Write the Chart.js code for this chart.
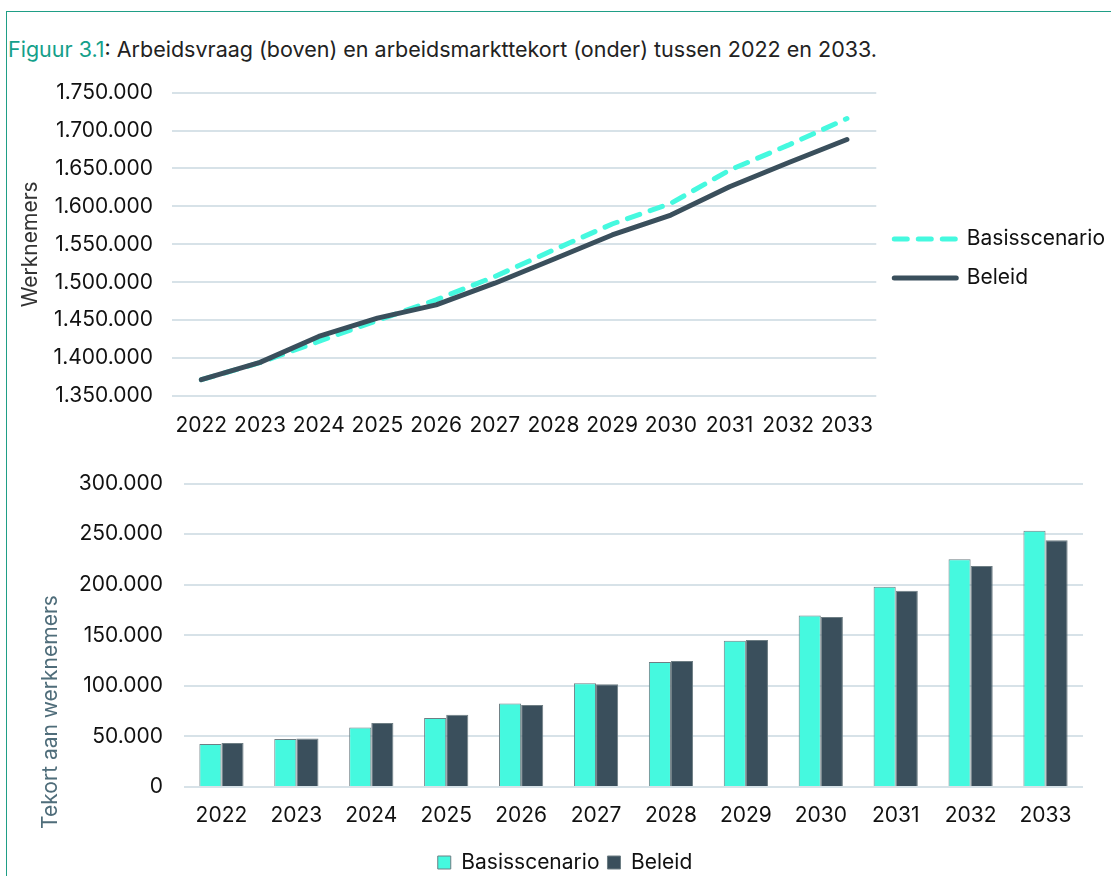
<!DOCTYPE html>
<html>
<head>
<meta charset="utf-8">
<script src="https://cdn.jsdelivr.net/npm/chart.js@4.4.1/dist/chart.umd.min.js"></script>
<style>
  html, body { margin: 0; background: #fff; font-family: Inter, sans-serif; overflow: hidden; width: 1111px; height: 876px; }
  #frame { position: absolute; left: 6px; top: 11px; width: 1105px; height: 866px;
           border-top: 1.5px solid #1f9e86; border-left: 1.5px solid #1f9e86; }
  #title { position: absolute; left: 8px; top: 36px; font-size: 21.5px; color: #222; white-space: nowrap; }
  #title span { color: #14a08a; }
  #boven { position: absolute; left: 0; top: 61px; }
  #onder { position: absolute; left: 0; top: 450px; }
</style>
</head>
<body>
<div id="frame"></div>
<div id="title"><span>Figuur 3.1</span>: Arbeidsvraag (boven) en arbeidsmarkttekort (onder) tussen 2022 en 2033.</div>
<canvas id="boven" width="1115" height="389"></canvas>
<canvas id="onder" width="1111" height="433"></canvas>
<script>
const years = ["2022", "2023", "2024", "2025", "2026", "2027", "2028", "2029", "2030", "2031", "2032", "2033"];

// arbeidsvraag (werknemers)
const vraagBasis = [1371500, 1394000, 1422000, 1449600, 1476800, 1507500, 1542500, 1576800, 1604000, 1647800, 1680700, 1715800];
const vraagBeleid = [1371500, 1394300, 1428500, 1452600, 1470200, 1498700, 1530300, 1562300, 1588600, 1625900, 1657500, 1688200];
const vraagMin = 1350000, vraagMax = 1750000, vraagStep = 50000;

// tekort aan werknemers
const tekortBasis = [42400, 47400, 58900, 68200, 82500, 102600, 123500, 144700, 169500, 198000, 225200, 253300];
const tekortBeleid = [43400, 48000, 63200, 71500, 81100, 101700, 124500, 145400, 168200, 194000, 218500, 244000];
const tekortMin = 0, tekortMax = 300000, tekortStep = 50000;

const TURQ = "#45F9DF";
const SLATE = "#3A4F5C";
const GRID = "#d7e2e8";

function nlNum(v) {
  return String(v).replace(/\B(?=(\d{3})+(?!\d))/g, ".");
}

const tickFont = { family: "Inter", size: 21 };

new Chart(document.getElementById("boven"), {
  type: "line",
  data: {
    labels: years,
    datasets: [
      {
        label: "Basisscenario",
        data: vraagBasis,
        borderColor: TURQ,
        backgroundColor: TURQ,
        borderWidth: 5,
        borderDash: [13, 11],
        borderCapStyle: "round",
        pointRadius: 0,
        tension: 0,
        order: 1,
      },
      {
        label: "Beleid",
        data: vraagBeleid,
        borderColor: SLATE,
        backgroundColor: SLATE,
        borderWidth: 5,
        borderCapStyle: "round",
        borderJoinStyle: "round",
        pointRadius: 0,
        tension: 0,
        order: 0,
      },
    ],
  },
  options: {
    responsive: false,
    animation: false,
    layout: { padding: { top: 6, right: 0, bottom: 0, left: 0 } },
    plugins: {
      legend: {
        position: "right",
        labels: {
          usePointStyle: true,
          pointStyle: "line",
          pointStyleWidth: 62,
          padding: 18,
          color: "#111",
          font: tickFont,
          sort: (a, b) => a.datasetIndex - b.datasetIndex,
          generateLabels(chart) {
            const items = Chart.defaults.plugins.legend.labels.generateLabels(chart);
            items.forEach((it) => {
              const ds = chart.data.datasets[it.datasetIndex];
              it.pointStyle = "line";
              it.lineDash = ds.borderDash || [];
              it.lineWidth = ds.borderWidth;
              it.strokeStyle = ds.borderColor;
              it.lineCap = "round";
            });
            return items;
          },
        },
      },
      tooltip: { enabled: false },
    },
    scales: {
      x: {
        offset: true,
        grid: { display: false },
        border: { display: false },
        ticks: { color: "#111", font: tickFont, padding: 9, maxRotation: 0, autoSkip: false },
        afterFit(scale) { scale.height = 54; },
      },
      y: {
        min: vraagMin,
        max: vraagMax,
        grid: { color: GRID, lineWidth: 2, drawTicks: false },
        border: { display: false },
        ticks: { stepSize: vraagStep, color: "#111", font: tickFont, padding: 19, callback: nlNum },
        title: { display: true, text: "Werknemers", color: "#333", font: tickFont, padding: { top: 18, bottom: 0 } },
        afterFit(scale) { scale.width = 172; },
      },
    },
  },
});

// y-as titel onder, iets lager dan het midden (zoals origineel)
const onderTitel = {
  id: "onderTitel",
  afterDraw(chart) {
    const ctx = chart.ctx;
    ctx.save();
    ctx.translate(51, 262);
    ctx.rotate(-Math.PI / 2);
    ctx.fillStyle = "#4f6d7a";
    ctx.font = "21px Inter";
    ctx.textAlign = "center";
    ctx.textBaseline = "middle";
    ctx.fillText("Tekort aan werknemers", 0, 0);
    ctx.restore();
  },
};

new Chart(document.getElementById("onder"), {
  type: "bar",
  data: {
    labels: years,
    datasets: [
      {
        label: "Basisscenario",
        data: tekortBasis,
        backgroundColor: TURQ,
        borderColor: "#6e7e84",
        borderWidth: 1,
        categoryPercentage: 0.59,
        barPercentage: 1,
      },
      {
        label: "Beleid",
        data: tekortBeleid,
        backgroundColor: SLATE,
        borderColor: "#6e7e84",
        borderWidth: 1,
        categoryPercentage: 0.59,
        barPercentage: 1,
      },
    ],
  },
  plugins: [onderTitel],
  options: {
    responsive: false,
    animation: false,
    layout: { padding: { top: 12, right: 28, bottom: 0, left: 47 } },
    plugins: {
      legend: {
        position: "bottom",
        labels: { boxWidth: 13, boxHeight: 13, padding: 8, color: "#111", font: tickFont },
      },
      tooltip: { enabled: false },
    },
    scales: {
      x: {
        grid: { display: false },
        border: { display: false },
        ticks: { color: "#111", font: tickFont, padding: 8, maxRotation: 0, autoSkip: false },
        afterFit(scale) { scale.height = 57; },
      },
      y: {
        min: tekortMin,
        max: tekortMax,
        grid: { color: GRID, lineWidth: 2, drawTicks: false },
        border: { display: false },
        ticks: { stepSize: tekortStep, color: "#111", font: tickFont, padding: 21, callback: nlNum },
        afterFit(scale) { scale.width = 137; },
      },
    },
  },
});
</script>
</body>
</html>
